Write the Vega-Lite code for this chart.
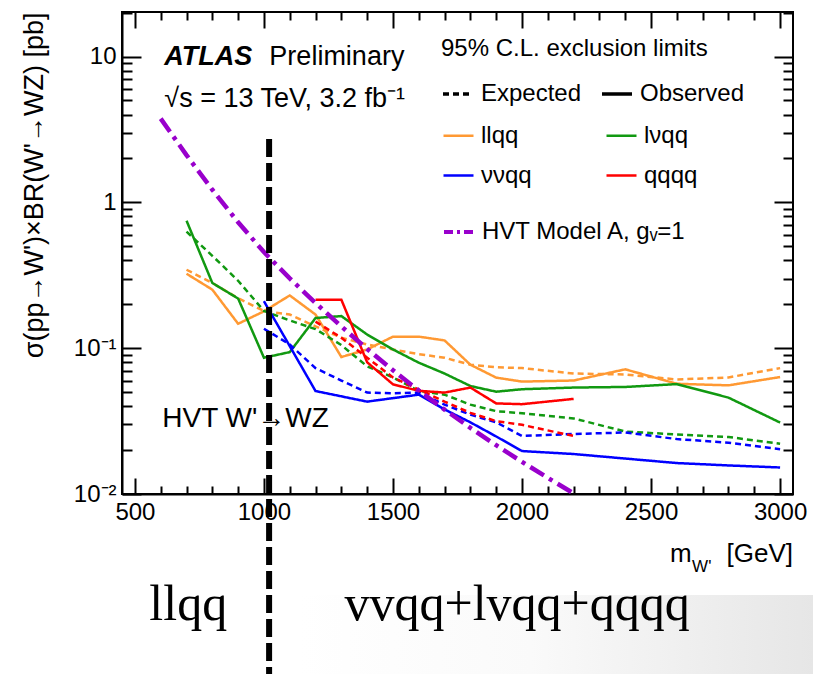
{
  "$schema": "https://vega.github.io/schema/vega-lite/v6.json",
  "width": 671,
  "height": 482,
  "autosize": {"type": "none"},
  "padding": {"left": 122, "top": 12, "right": 20, "bottom": 180},
  "background": "white",
  "config": {
    "font": "Liberation Sans, Arial, Helvetica, sans-serif",
    "view": {"stroke": "black", "strokeWidth": 2},
    "axis": {"grid": false, "domainColor": "black", "domainWidth": 2, "tickColor": "black", "tickWidth": 2, "labelColor": "black", "titleColor": "black", "labelFontSize": 24, "labelFont": "Liberation Sans, Arial, sans-serif"},
    "legend": {"labelColor": "black", "titleColor": "black", "labelFont": "Liberation Sans, Arial, sans-serif", "titleFont": "Liberation Sans, Arial, sans-serif", "labelFontSize": 24, "titleFontSize": 24, "titleFontWeight": "normal", "labelLimit": 600, "titleLimit": 600}
  },
  "datasets": {
    "limits": [
      {"m":700,"xs":0.324,"channel":"llqq","limit":"Observed"},
      {"m":800,"xs":0.252,"channel":"llqq","limit":"Observed"},
      {"m":900,"xs":0.147,"channel":"llqq","limit":"Observed"},
      {"m":1000,"xs":0.179,"channel":"llqq","limit":"Observed"},
      {"m":1100,"xs":0.23,"channel":"llqq","limit":"Observed"},
      {"m":1200,"xs":0.17,"channel":"llqq","limit":"Observed"},
      {"m":1300,"xs":0.087,"channel":"llqq","limit":"Observed"},
      {"m":1400,"xs":0.098,"channel":"llqq","limit":"Observed"},
      {"m":1500,"xs":0.12,"channel":"llqq","limit":"Observed"},
      {"m":1600,"xs":0.12,"channel":"llqq","limit":"Observed"},
      {"m":1700,"xs":0.113,"channel":"llqq","limit":"Observed"},
      {"m":1800,"xs":0.077,"channel":"llqq","limit":"Observed"},
      {"m":1900,"xs":0.0628,"channel":"llqq","limit":"Observed"},
      {"m":2000,"xs":0.059,"channel":"llqq","limit":"Observed"},
      {"m":2200,"xs":0.06,"channel":"llqq","limit":"Observed"},
      {"m":2400,"xs":0.0716,"channel":"llqq","limit":"Observed"},
      {"m":2600,"xs":0.057,"channel":"llqq","limit":"Observed"},
      {"m":2800,"xs":0.0556,"channel":"llqq","limit":"Observed"},
      {"m":3000,"xs":0.0634,"channel":"llqq","limit":"Observed"},
      {"m":700,"xs":0.345,"channel":"llqq","limit":"Expected"},
      {"m":800,"xs":0.28,"channel":"llqq","limit":"Expected"},
      {"m":900,"xs":0.22,"channel":"llqq","limit":"Expected"},
      {"m":1000,"xs":0.18,"channel":"llqq","limit":"Expected"},
      {"m":1100,"xs":0.17,"channel":"llqq","limit":"Expected"},
      {"m":1200,"xs":0.141,"channel":"llqq","limit":"Expected"},
      {"m":1300,"xs":0.118,"channel":"llqq","limit":"Expected"},
      {"m":1400,"xs":0.106,"channel":"llqq","limit":"Expected"},
      {"m":1500,"xs":0.098,"channel":"llqq","limit":"Expected"},
      {"m":1600,"xs":0.091,"channel":"llqq","limit":"Expected"},
      {"m":1700,"xs":0.086,"channel":"llqq","limit":"Expected"},
      {"m":1800,"xs":0.077,"channel":"llqq","limit":"Expected"},
      {"m":1900,"xs":0.074,"channel":"llqq","limit":"Expected"},
      {"m":2000,"xs":0.073,"channel":"llqq","limit":"Expected"},
      {"m":2200,"xs":0.067,"channel":"llqq","limit":"Expected"},
      {"m":2400,"xs":0.066,"channel":"llqq","limit":"Expected"},
      {"m":2600,"xs":0.061,"channel":"llqq","limit":"Expected"},
      {"m":2800,"xs":0.063,"channel":"llqq","limit":"Expected"},
      {"m":3000,"xs":0.073,"channel":"llqq","limit":"Expected"},
      {"m":700,"xs":0.749,"channel":"lνqq","limit":"Observed"},
      {"m":800,"xs":0.28,"channel":"lνqq","limit":"Observed"},
      {"m":900,"xs":0.219,"channel":"lνqq","limit":"Observed"},
      {"m":1000,"xs":0.086,"channel":"lνqq","limit":"Observed"},
      {"m":1100,"xs":0.094,"channel":"lνqq","limit":"Observed"},
      {"m":1200,"xs":0.161,"channel":"lνqq","limit":"Observed"},
      {"m":1300,"xs":0.166,"channel":"lνqq","limit":"Observed"},
      {"m":1400,"xs":0.124,"channel":"lνqq","limit":"Observed"},
      {"m":1500,"xs":0.098,"channel":"lνqq","limit":"Observed"},
      {"m":1600,"xs":0.0795,"channel":"lνqq","limit":"Observed"},
      {"m":1700,"xs":0.067,"channel":"lνqq","limit":"Observed"},
      {"m":1800,"xs":0.055,"channel":"lνqq","limit":"Observed"},
      {"m":1900,"xs":0.0503,"channel":"lνqq","limit":"Observed"},
      {"m":2000,"xs":0.0523,"channel":"lνqq","limit":"Observed"},
      {"m":2200,"xs":0.0537,"channel":"lνqq","limit":"Observed"},
      {"m":2400,"xs":0.0542,"channel":"lνqq","limit":"Observed"},
      {"m":2600,"xs":0.0567,"channel":"lνqq","limit":"Observed"},
      {"m":2800,"xs":0.0458,"channel":"lνqq","limit":"Observed"},
      {"m":3000,"xs":0.0309,"channel":"lνqq","limit":"Observed"},
      {"m":700,"xs":0.63,"channel":"lνqq","limit":"Expected"},
      {"m":800,"xs":0.43,"channel":"lνqq","limit":"Expected"},
      {"m":900,"xs":0.29,"channel":"lνqq","limit":"Expected"},
      {"m":1000,"xs":0.18,"channel":"lνqq","limit":"Expected"},
      {"m":1100,"xs":0.155,"channel":"lνqq","limit":"Expected"},
      {"m":1200,"xs":0.135,"channel":"lνqq","limit":"Expected"},
      {"m":1300,"xs":0.105,"channel":"lνqq","limit":"Expected"},
      {"m":1400,"xs":0.075,"channel":"lνqq","limit":"Expected"},
      {"m":1500,"xs":0.063,"channel":"lνqq","limit":"Expected"},
      {"m":1600,"xs":0.051,"channel":"lνqq","limit":"Expected"},
      {"m":1700,"xs":0.048,"channel":"lνqq","limit":"Expected"},
      {"m":1800,"xs":0.041,"channel":"lνqq","limit":"Expected"},
      {"m":1900,"xs":0.037,"channel":"lνqq","limit":"Expected"},
      {"m":2000,"xs":0.0358,"channel":"lνqq","limit":"Expected"},
      {"m":2200,"xs":0.033,"channel":"lνqq","limit":"Expected"},
      {"m":2400,"xs":0.0268,"channel":"lνqq","limit":"Expected"},
      {"m":2600,"xs":0.0256,"channel":"lνqq","limit":"Expected"},
      {"m":2800,"xs":0.0246,"channel":"lνqq","limit":"Expected"},
      {"m":3000,"xs":0.0221,"channel":"lνqq","limit":"Expected"},
      {"m":1000,"xs":0.21,"channel":"ννqq","limit":"Observed"},
      {"m":1200,"xs":0.0508,"channel":"ννqq","limit":"Observed"},
      {"m":1400,"xs":0.043,"channel":"ννqq","limit":"Observed"},
      {"m":1600,"xs":0.048,"channel":"ννqq","limit":"Observed"},
      {"m":1700,"xs":0.038,"channel":"ννqq","limit":"Observed"},
      {"m":1800,"xs":0.031,"channel":"ννqq","limit":"Observed"},
      {"m":1900,"xs":0.0248,"channel":"ννqq","limit":"Observed"},
      {"m":2000,"xs":0.0197,"channel":"ννqq","limit":"Observed"},
      {"m":2200,"xs":0.0188,"channel":"ννqq","limit":"Observed"},
      {"m":2400,"xs":0.0175,"channel":"ννqq","limit":"Observed"},
      {"m":2600,"xs":0.0163,"channel":"ννqq","limit":"Observed"},
      {"m":2800,"xs":0.0157,"channel":"ννqq","limit":"Observed"},
      {"m":3000,"xs":0.0152,"channel":"ννqq","limit":"Observed"},
      {"m":1000,"xs":0.136,"channel":"ννqq","limit":"Expected"},
      {"m":1100,"xs":0.106,"channel":"ννqq","limit":"Expected"},
      {"m":1200,"xs":0.073,"channel":"ννqq","limit":"Expected"},
      {"m":1300,"xs":0.06,"channel":"ννqq","limit":"Expected"},
      {"m":1400,"xs":0.0496,"channel":"ννqq","limit":"Expected"},
      {"m":1500,"xs":0.049,"channel":"ννqq","limit":"Expected"},
      {"m":1600,"xs":0.0496,"channel":"ννqq","limit":"Expected"},
      {"m":1700,"xs":0.041,"channel":"ννqq","limit":"Expected"},
      {"m":1800,"xs":0.035,"channel":"ννqq","limit":"Expected"},
      {"m":1900,"xs":0.031,"channel":"ννqq","limit":"Expected"},
      {"m":2000,"xs":0.025,"channel":"ννqq","limit":"Expected"},
      {"m":2200,"xs":0.0258,"channel":"ννqq","limit":"Expected"},
      {"m":2400,"xs":0.0264,"channel":"ννqq","limit":"Expected"},
      {"m":2600,"xs":0.0238,"channel":"ννqq","limit":"Expected"},
      {"m":2800,"xs":0.0225,"channel":"ννqq","limit":"Expected"},
      {"m":3000,"xs":0.0203,"channel":"ννqq","limit":"Expected"},
      {"m":1200,"xs":0.215,"channel":"qqqq","limit":"Observed"},
      {"m":1300,"xs":0.215,"channel":"qqqq","limit":"Observed"},
      {"m":1400,"xs":0.08,"channel":"qqqq","limit":"Observed"},
      {"m":1500,"xs":0.0565,"channel":"qqqq","limit":"Observed"},
      {"m":1600,"xs":0.051,"channel":"qqqq","limit":"Observed"},
      {"m":1700,"xs":0.0496,"channel":"qqqq","limit":"Observed"},
      {"m":1800,"xs":0.0537,"channel":"qqqq","limit":"Observed"},
      {"m":1900,"xs":0.0418,"channel":"qqqq","limit":"Observed"},
      {"m":2000,"xs":0.0413,"channel":"qqqq","limit":"Observed"},
      {"m":2200,"xs":0.0449,"channel":"qqqq","limit":"Observed"},
      {"m":1200,"xs":0.152,"channel":"qqqq","limit":"Expected"},
      {"m":1300,"xs":0.118,"channel":"qqqq","limit":"Expected"},
      {"m":1400,"xs":0.086,"channel":"qqqq","limit":"Expected"},
      {"m":1500,"xs":0.063,"channel":"qqqq","limit":"Expected"},
      {"m":1600,"xs":0.052,"channel":"qqqq","limit":"Expected"},
      {"m":1700,"xs":0.043,"channel":"qqqq","limit":"Expected"},
      {"m":1800,"xs":0.036,"channel":"qqqq","limit":"Expected"},
      {"m":1900,"xs":0.0316,"channel":"qqqq","limit":"Expected"},
      {"m":2000,"xs":0.0298,"channel":"qqqq","limit":"Expected"},
      {"m":2200,"xs":0.025,"channel":"qqqq","limit":"Expected"}
    ],
    "hvt": [
      {"m":600,"xs":3.75,"model":"HVT Model A, gᵥ=1"},
      {"m":700,"xs":2.11,"model":"HVT Model A, gᵥ=1"},
      {"m":800,"xs":1.22,"model":"HVT Model A, gᵥ=1"},
      {"m":900,"xs":0.73,"model":"HVT Model A, gᵥ=1"},
      {"m":1000,"xs":0.456,"model":"HVT Model A, gᵥ=1"},
      {"m":1100,"xs":0.301,"model":"HVT Model A, gᵥ=1"},
      {"m":1200,"xs":0.204,"model":"HVT Model A, gᵥ=1"},
      {"m":1300,"xs":0.141,"model":"HVT Model A, gᵥ=1"},
      {"m":1400,"xs":0.0986,"model":"HVT Model A, gᵥ=1"},
      {"m":1500,"xs":0.0706,"model":"HVT Model A, gᵥ=1"},
      {"m":1600,"xs":0.0512,"model":"HVT Model A, gᵥ=1"},
      {"m":1700,"xs":0.0379,"model":"HVT Model A, gᵥ=1"},
      {"m":1800,"xs":0.0284,"model":"HVT Model A, gᵥ=1"},
      {"m":1900,"xs":0.0216,"model":"HVT Model A, gᵥ=1"},
      {"m":2000,"xs":0.0166,"model":"HVT Model A, gᵥ=1"},
      {"m":2100,"xs":0.0129,"model":"HVT Model A, gᵥ=1"},
      {"m":2200,"xs":0.0101,"model":"HVT Model A, gᵥ=1"}
    ]
  },
  "layer": [
    {
      "data": {"values": [{}]},
      "mark": {"type": "rect", "fill": {"gradient": "linear", "x1": 0, "y1": 0, "x2": 1, "y2": 0, "stops": [{"offset": 0, "color": "#ffffff"}, {"offset": 0.45, "color": "#fafafa"}, {"offset": 1, "color": "#e6e6e6"}]}},
      "encoding": {
        "x": {"datum": 1140, "type": "quantitative", "axis": null},
        "x2": {"datum": 3130},
        "y": {"datum": 0.00203, "type": "quantitative", "axis": null},
        "y2": {"datum": 0.0001}
      }
    },
    {
      "data": {"name": "limits"},
      "mark": {"type": "line", "strokeWidth": 2.5, "clip": true},
      "encoding": {
        "x": {"field": "m", "type": "quantitative", "scale": {"domain": [450, 3050], "nice": false, "zero": false},
          "axis": {"orient": "bottom", "values": [500,1000,1500,2000,2500,3000], "format": "d", "tickSize": -16, "labelPadding": 22, "title": null, "labelFlush": false}},
        "y": {"field": "xs", "type": "quantitative", "scale": {"type": "log", "domain": [0.01, 20.2], "nice": false},
          "axis": {"orient": "left", "values": [0.01,0.1,1,10], "tickSize": -19, "labelPadding": 25,
            "labelExpr": "datum.value > 5 ? '10' : datum.value > 0.5 ? '1' : datum.value > 0.05 ? '10⁻¹' : '10⁻²'",
            "title": "σ(pp→W')×BR(W'→WZ) [pb]", "titleFontSize": 27, "titleFontWeight": "normal", "titleAnchor": "end", "titleX": -74, "titleY": 0, "titleAngle": -90, "titleBaseline": "bottom", "titleAlign": "right"}},
        "color": {"field": "channel", "type": "nominal",
          "scale": {"domain": ["llqq","lνqq","ννqq","qqqq"], "range": ["#ff9933","#119911","#0000ff","#ff0000"]},
          "legend": {"orient": "none", "direction": "horizontal", "legendX": 320, "legendY": 107, "title": null, "columns": 2, "columnPadding": 69, "rowPadding": 11, "symbolType": "stroke", "symbolSize": 900, "symbolStrokeWidth": 2.5, "labelFontSize": 24, "labelOffset": 6, "padding": 0, "symbolDash": [1, 0]}},
        "strokeDash": {"field": "limit", "type": "nominal",
          "scale": {"domain": ["Expected","Observed"], "range": [[6,4],[1,0]]},
          "legend": {"orient": "none", "direction": "horizontal", "legendX": 319, "legendY": 25, "title": "95% C.L. exclusion limits", "titleFontSize": 24, "titleFontWeight": "normal", "titlePadding": 16, "columns": 2, "columnPadding": 13, "symbolType": "stroke", "symbolSize": 900, "symbolStrokeWidth": 3.5, "symbolStrokeColor": "black", "labelFontSize": 24, "labelOffset": 6, "padding": 0}}
      }
    },
    {
      "data": {"name": "hvt"},
      "mark": {"type": "line", "strokeWidth": 4.5, "strokeDash": [16,6,4,6], "clip": true},
      "encoding": {
        "x": {"field": "m", "type": "quantitative", "scale": {"domain": [450, 3050], "nice": false, "zero": false},
          "axis": {"orient": "bottom", "values": [600,700,800,900,1100,1200,1300,1400,1600,1700,1800,1900,2100,2200,2300,2400,2600,2700,2800,2900], "tickSize": -8, "labels": false, "domain": false, "title": null}},
        "y": {"field": "xs", "type": "quantitative", "scale": {"type": "log", "domain": [0.01, 20.2], "nice": false},
          "axis": {"orient": "left", "values": [0.02,0.03,0.04,0.05,0.06,0.07,0.08,0.09,0.2,0.3,0.4,0.5,0.6,0.7,0.8,0.9,2,3,4,5,6,7,8,9,20], "tickSize": -10, "labels": false, "domain": false, "title": null}},
        "color": {"field": "model", "type": "nominal",
          "scale": {"range": ["#9900cc"]},
          "legend": {"orient": "none", "legendX": 320, "legendY": 203, "title": null, "symbolType": "stroke", "symbolSize": 900, "symbolStrokeWidth": 4, "symbolDash": [9,4,3,4], "labelFontSize": 24, "labelOffset": 6, "padding": 0}}
      }
    },
    {
      "data": {"name": "hvt"},
      "mark": {"type": "point", "opacity": 0},
      "encoding": {
        "x": {"field": "m", "type": "quantitative", "scale": {"domain": [450, 3050], "nice": false, "zero": false},
          "axis": {"orient": "top", "values": [500,1000,1500,2000,2500,3000], "tickSize": -16, "labels": false, "domain": false, "title": null}},
        "y": {"field": "xs", "type": "quantitative", "scale": {"type": "log", "domain": [0.01, 20.2], "nice": false},
          "axis": {"orient": "right", "values": [0.01,0.1,1,10], "tickSize": -19, "labels": false, "domain": false, "title": null}}
      }
    },
    {
      "data": {"name": "hvt"},
      "mark": {"type": "point", "opacity": 0},
      "encoding": {
        "x": {"field": "m", "type": "quantitative", "scale": {"domain": [450, 3050], "nice": false, "zero": false},
          "axis": {"orient": "top", "values": [600,700,800,900,1100,1200,1300,1400,1600,1700,1800,1900,2100,2200,2300,2400,2600,2700,2800,2900], "tickSize": -8, "labels": false, "domain": false, "title": null}},
        "y": {"field": "xs", "type": "quantitative", "scale": {"type": "log", "domain": [0.01, 20.2], "nice": false},
          "axis": {"orient": "right", "values": [0.02,0.03,0.04,0.05,0.06,0.07,0.08,0.09,0.2,0.3,0.4,0.5,0.6,0.7,0.8,0.9,2,3,4,5,6,7,8,9,20], "tickSize": -10, "labels": false, "domain": false, "title": null}}
      }
    },
    {
      "data": {"values": [{}]},
      "mark": {"type": "rule", "strokeWidth": 6, "strokeDash": [18,6], "color": "black"},
      "encoding": {
        "x": {"datum": 1020, "type": "quantitative", "axis": null},
        "y": {"datum": 2.72, "type": "quantitative", "axis": null},
        "y2": {"datum": 0.0004}
      }
    },
    {
      "data": {"values": [{}]},
      "mark": {"type": "text", "text": "ATLAS", "fontSize": 27, "fontWeight": "bold", "fontStyle": "italic", "align": "left", "baseline": "alphabetic", "color": "black"},
      "encoding": {"x": {"datum": 614, "type": "quantitative", "axis": null}, "y": {"datum": 8.8, "type": "quantitative", "axis": null}}
    },
    {
      "data": {"values": [{}]},
      "mark": {"type": "text", "text": "Preliminary", "fontSize": 27, "align": "left", "baseline": "alphabetic", "color": "black"},
      "encoding": {"x": {"datum": 1021, "type": "quantitative", "axis": null}, "y": {"datum": 8.8, "type": "quantitative", "axis": null}}
    },
    {
      "data": {"values": [{}]},
      "mark": {"type": "text", "text": "√s = 13 TeV, 3.2 fb⁻¹", "fontSize": 27, "align": "left", "baseline": "alphabetic", "color": "black"},
      "encoding": {"x": {"datum": 614, "type": "quantitative", "axis": null}, "y": {"datum": 4.48, "type": "quantitative", "axis": null}}
    },
    {
      "data": {"values": [{}]},
      "mark": {"type": "text", "text": "HVT W'→WZ", "fontSize": 28, "align": "left", "baseline": "alphabetic", "color": "black"},
      "encoding": {"x": {"datum": 606, "type": "quantitative", "axis": null}, "y": {"datum": 0.0287, "type": "quantitative", "axis": null}}
    },
    {
      "data": {"values": [{}]},
      "mark": {"type": "text", "text": "m", "fontSize": 26, "align": "right", "baseline": "alphabetic", "color": "black"},
      "encoding": {"x": {"datum": 2657, "type": "quantitative", "axis": null}, "y": {"datum": 0.00342, "type": "quantitative", "axis": null}}
    },
    {
      "data": {"values": [{}]},
      "mark": {"type": "text", "text": "W'", "fontSize": 17, "align": "left", "baseline": "alphabetic", "color": "black"},
      "encoding": {"x": {"datum": 2659, "type": "quantitative", "axis": null}, "y": {"datum": 0.00292, "type": "quantitative", "axis": null}}
    },
    {
      "data": {"values": [{}]},
      "mark": {"type": "text", "text": "[GeV]", "fontSize": 26, "align": "right", "baseline": "alphabetic", "color": "black"},
      "encoding": {"x": {"datum": 3050, "type": "quantitative", "axis": null}, "y": {"datum": 0.00342, "type": "quantitative", "axis": null}}
    },
    {
      "data": {"values": [{}]},
      "mark": {"type": "text", "text": "llqq", "fontSize": 50, "font": "Liberation Serif, Times New Roman, serif", "align": "left", "baseline": "alphabetic", "color": "black"},
      "encoding": {"x": {"datum": 556, "type": "quantitative", "axis": null}, "y": {"datum": 0.00137, "type": "quantitative", "axis": null}}
    },
    {
      "data": {"values": [{}]},
      "mark": {"type": "text", "text": "vvqq+lvqq+qqqq", "fontSize": 50, "font": "Liberation Serif, Times New Roman, serif", "align": "left", "baseline": "alphabetic", "color": "black"},
      "encoding": {"x": {"datum": 1312, "type": "quantitative", "axis": null}, "y": {"datum": 0.00137, "type": "quantitative", "axis": null}}
    }
  ],
  "resolve": {"scale": {"color": "independent"}, "axis": {"x": "independent", "y": "independent"}}
}
